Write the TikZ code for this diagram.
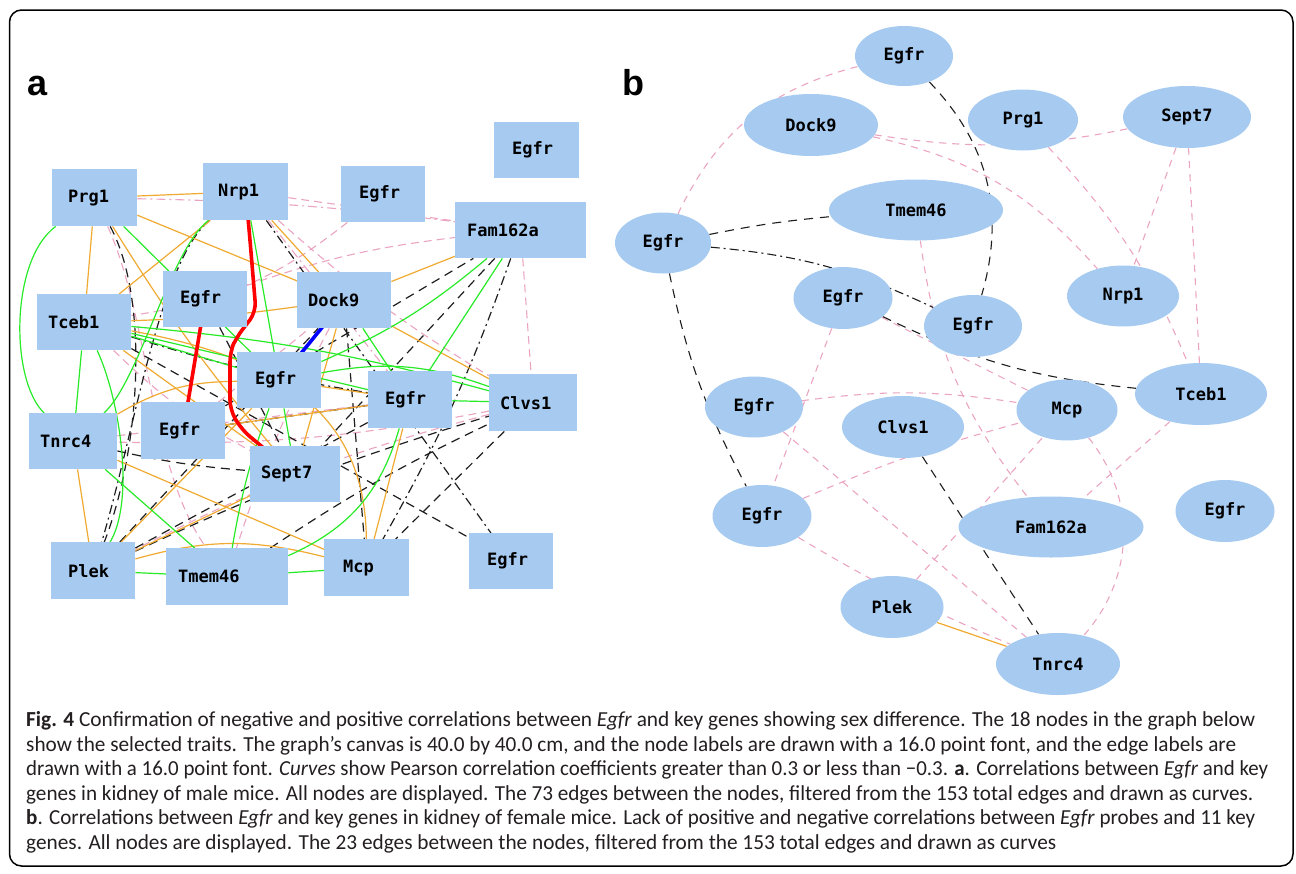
\documentclass[tikz,border=0pt]{standalone}
\usepackage{graphicx}
\usepackage{fontspec}
\setmainfont{Carlito}
\newfontfamily\labfont{DejaVu Sans Mono}
\newfontfamily\panfont{Liberation Sans}
\usetikzlibrary{shapes.geometric}
\pgfdeclarelayer{bglayer}
\pgfdeclarelayer{edgelayer}
\pgfsetlayers{bglayer,edgelayer,main}
\definecolor{boxblue}{RGB}{166,202,240}
\definecolor{lgreen}{RGB}{40,235,40}
\definecolor{lorange}{RGB}{240,170,50}
\definecolor{lpink}{RGB}{235,165,195}
\definecolor{dgray}{RGB}{30,30,30}
\definecolor{captext}{RGB}{35,31,32}
\newcommand\capfit[2]{\resizebox{#1pt}{\height}{#2}}
\begin{document}
\begin{tikzpicture}[x=1pt,y=-1pt,
  abox/.style={fill=boxblue, anchor=north west, align=left, inner ysep=2pt,
    font=\labfont\bfseries\fontsize{17}{17}\selectfont},
  bell/.style={ellipse, fill=boxblue, inner sep=0pt,
    font=\labfont\bfseries\fontsize{17}{17}\selectfont},
  ga/.style={draw=lgreen, line width=1.2pt},
  oa/.style={draw=lorange, line width=1.2pt},
  pa/.style={draw=lpink, line width=1.1pt, dash pattern=on 8pt off 5pt},
  pda/.style={draw=lpink, line width=1.1pt, dash pattern=on 9pt off 4pt on 2pt off 4pt},
  ka/.style={draw=dgray, line width=1.2pt, dash pattern=on 9pt off 6pt},
  kda/.style={draw=dgray, line width=1.2pt, dash pattern=on 9pt off 4pt on 2pt off 4pt},
  ra/.style={draw=red, line width=3.6pt},
  ba/.style={draw=blue, line width=3.6pt},
  pb/.style={draw=lpink, line width=1.1pt, dash pattern=on 7pt off 6pt},
  kb/.style={draw=dgray, line width=1.1pt, dash pattern=on 9pt off 7pt},
  kdb/.style={draw=dgray, line width=1.1pt, dash pattern=on 9pt off 4pt on 2pt off 4pt},
  ob/.style={draw=lorange, line width=1.2pt},
  capline/.style={anchor=base west, inner sep=0pt, text=captext,
    font=\fontsize{21.4}{25}\selectfont},
  panlab/.style={anchor=base west, inner sep=0pt,
    font=\panfont\bfseries\fontsize{36}{36}\selectfont}
]
\useasboundingbox (0,0) rectangle (1296,873);
\begin{pgfonlayer}{bglayer}
\fill[white] (0,0) rectangle (1296,873);
\end{pgfonlayer}
\draw[line width=1.5pt, rounded corners=12pt] (9.5,10) rectangle (1293,866);

% panel labels
\node[panlab] (la) at (27,95) {a};
\node[panlab] (lb) at (622,95) {b};

% ---------------- panel a nodes
\node[abox, minimum height=57pt, text width=53pt, inner xsep=16pt] (aP) at (52,169) {Prg1};
\node[abox, minimum height=57pt, text width=55pt, inner xsep=15pt] (aN) at (203,163) {Nrp1};
\node[abox, minimum height=56pt, text width=48pt, inner xsep=18pt] (aE1) at (341,166) {Egfr};
\node[abox, minimum height=56pt, text width=49pt, inner xsep=18pt] (aE2) at (494,122) {Egfr};
\node[abox, minimum height=56pt, text width=107pt, inner xsep=12pt] (aF) at (455,202) {Fam162a};
\node[abox, minimum height=56pt, text width=72pt, inner xsep=11pt] (aT) at (37,294) {Tceb1};
\node[abox, minimum height=56pt, text width=50pt, inner xsep=17pt] (aE3) at (163,271) {Egfr};
\node[abox, minimum height=56pt, text width=72pt, inner xsep=11pt] (aD) at (297,272) {Dock9};
\node[abox, minimum height=56pt, text width=48pt, inner xsep=18pt] (aE4) at (237,352) {Egfr};
\node[abox, minimum height=57pt, text width=50pt, inner xsep=17pt] (aE5) at (368,371) {Egfr};
\node[abox, minimum height=57pt, text width=66pt, inner xsep=11pt] (aC) at (489,374) {Clvs1};
\node[abox, minimum height=56pt, text width=66pt, inner xsep=11pt] (aTn) at (29,413) {Tnrc4};
\node[abox, minimum height=57pt, text width=48pt, inner xsep=18pt] (aE6) at (141,402) {Egfr};
\node[abox, minimum height=56pt, text width=68pt, inner xsep=11pt] (aS) at (250,446) {Sept7};
\node[abox, minimum height=57pt, text width=50pt, inner xsep=17pt] (aPl) at (51,542) {Plek};
\node[abox, minimum height=57pt, text width=98pt, inner xsep=12pt] (aTm) at (166,548) {Tmem46};
\node[abox, minimum height=57pt, text width=47pt, inner xsep=19pt] (aM) at (324,539) {Mcp};
\node[abox, minimum height=56pt, text width=48pt, inner xsep=18pt] (aE7) at (469,533) {Egfr};

% ---------------- panel b nodes
\node[bell, minimum width=98pt, minimum height=60pt] (bEtop) at (904,56) {Egfr};
\node[bell, minimum width=134pt, minimum height=62pt] (bD) at (811,125) {Dock9};
\node[bell, minimum width=110pt, minimum height=61pt] (bP) at (1023,120) {Prg1};
\node[bell, minimum width=128pt, minimum height=62pt] (bS) at (1187,117) {Sept7};
\node[bell, minimum width=174pt, minimum height=61pt] (bTm) at (916,210) {Tmem46};
\node[bell, minimum width=96pt, minimum height=61pt] (bEL) at (663,243) {Egfr};
\node[bell, minimum width=99pt, minimum height=62pt] (bEM) at (843,298) {Egfr};
\node[bell, minimum width=98pt, minimum height=62pt] (bERM) at (973,326) {Egfr};
\node[bell, minimum width=112pt, minimum height=61pt] (bN) at (1123,296) {Nrp1};
\node[bell, minimum width=132pt, minimum height=62pt] (bT) at (1201,394) {Tceb1};
\node[bell, minimum width=98pt, minimum height=61pt] (bEL1) at (754,407) {Egfr};
\node[bell, minimum width=122pt, minimum height=62pt] (bC) at (903,427) {Clvs1};
\node[bell, minimum width=101pt, minimum height=61pt] (bM) at (1067,410) {Mcp};
\node[bell, minimum width=99pt, minimum height=62pt] (bEL2) at (762,516) {Egfr};
\node[bell, minimum width=185pt, minimum height=61pt] (bF) at (1051,527) {Fam162a};
\node[bell, minimum width=99pt, minimum height=62pt] (bER) at (1225,511) {Egfr};
\node[bell, minimum width=103pt, minimum height=62pt] (bPl) at (892,607) {Plek};
\node[bell, minimum width=124pt, minimum height=62pt] (bTn) at (1058,664) {Tnrc4};

\begin{pgfonlayer}{edgelayer}
% ---------- panel a: pink
\draw[pda] (aP) to[bend left=3] (aF);
\draw[pa] (aN) -- (aF);
\draw[pa] (aP) .. controls (150,320) and (150,470) .. (aTm);
\draw[pa] (aE1) to[bend left=15] (aT);
\draw[pa] (aN) to[bend right=5] (aC);
\draw[pa] (aF) -- (aC);
\draw[pa] (aC) to[bend left=6] (aTn);
\draw[pa] (aC) to[bend right=6] (aPl);
\draw[pa] (aTn) -- (aE5);
\draw[pa] (aE3) to[bend left=6] (aF);
\draw[pa] (aD) to[bend right=5] (aTm);
\draw[pa] (aE6) -- (aD);
\draw[pda] (aN) -- (aE5);
\draw[pa] (aT) to[bend right=8] (aS);
% ---------- panel a: black
\draw[ka] (aP) .. controls (150,300) and (140,450) .. (aPl);
\draw[kda] (aN) .. controls (160,260) and (135,430) .. (aPl);
\draw[kda] (aT) to[bend right=4] (aE5);
\draw[ka] (aTn) to[bend right=4] (aS);
\draw[ka] (aE6) -- (aE5);
\draw[ka] (aPl) -- (aE5);
\draw[ka] (aPl) to[bend left=4] (aC);
\draw[ka] (aPl) -- (aD);
\draw[ka] (aTm) to[bend left=4] (aC);
\draw[kda] (aF) to[bend left=5] (aM);
\draw[ka] (aC) -- (aM);
\draw[ka] (aD) -- (aM);
\draw[ka] (aF) -- (aS);
\draw[kda] (aN) -- (aE7);
\draw[ka] (aT) -- (aE7);
\draw[ka] (aE3) -- (aS);
\draw[ka] (aE6) -- (aF);
% ---------- panel a: orange
\draw[oa] (aP) -- (aN);
\draw[oa] (aP) -- (aD);
\draw[oa] (aP) -- (aT);
\draw[oa] (aP) to[bend right=4] (aS);
\draw[oa] (aN) -- (aT);
\draw[oa] (aN) -- (aD);
\draw[oa] (aT) to[bend right=3] (aD);
\draw[oa] (aD) -- (aF);
\draw[oa] (aD) -- (aC);
\draw[oa] (aD) -- (aS);
\draw[oa] (aTn) to[bend left=15] (aE4);
\draw[oa] (aTn) -- (aPl);
\draw[oa] (aTn) -- (aM);
\draw[oa] (aPl) -- (aE4);
\draw[oa] (aPl) to[bend left=15] (aM);
\draw[oa] (aE5) -- (aM);
\draw[oa] (aT) .. controls (290,360) and (365,420) .. (aM);
\draw[oa] (aT) -- (aS);
\draw[oa] (aE4) -- (aE5);
\draw[oa] (aPl) -- (aS);
\draw[oa] (aE6) -- (aE5);
% ---------- panel a: green
\draw[ga] (aP) .. controls (10,260) and (10,380) .. (aTn);
\draw[ga] (aP) -- (aE4);
\draw[ga] (aN) -- (aE4);
\draw[ga] (aN) .. controls (170,250) and (140,380) .. (aTn);
\draw[ga] (aT) -- (aTn);
\draw[ga] (aT) -- (aE4);
\draw[ga] (aT) -- (aE5);
\draw[ga] (aT) to[bend left=5] (aC);
\draw[ga] (aTn) -- (aTm);
\draw[ga] (aPl) -- (aTm);
\draw[ga] (aTm) -- (aM);
\draw[ga] (aE4) to[bend right=5] (aTm);
\draw[ga] (aE5) to[bend left=25] (aTm);
\draw[ga] (aF) to[bend left=8] (aE4);
\draw[ga] (aF) -- (aE5);
\draw[ga] (aD) -- (aE5);
\draw[ga] (aE4) to[bend left=15] (aC);
\draw[ga] (aE5) -- (aC);
\draw[ga] (aE4) -- (aS);
\draw[ga] (aT) .. controls (120,400) and (135,500) .. (aPl);
% ---------- panel a: highlighted
\draw[ra] (aE3.center) -- (aE6.center);
\draw[ra, rounded corners=10pt] (aN.center) -- (250,240) -- (256,312) -- (236,338) -- (230,352) -- (230,410) -- (242,430) -- (aS.center);
\draw[ba] (aD.center) -- (aE4.center);

% ---------- panel b
\draw[pb] (bEL) to[bend left=25] (bEtop);
\draw[pb] (bD) to[bend right=10] (bS);
\draw[pb] (bD) to[bend left=18] (bN);
\draw[pb] (bP) to[bend left=10] (bT);
\draw[pb] (bS) -- (bN);
\draw[pb] (bS) -- (bT);
\draw[pb] (bTm) to[bend right=15] (bF);
\draw[pb] (bEM) -- (bEL2);
\draw[pb] (bEM) -- (bM);
\draw[pb] (bEL1) to[bend left=8] (bM);
\draw[pb] (bEL1) -- (bTn);
\draw[pb] (bEL2) to[bend left=4] (bM);
\draw[pb] (bEL2) to[bend right=4] (bTn);
\draw[pb] (bPl) -- (bM);
\draw[pb] (bM) to[bend left=40] (bTn);
\draw[pb] (bT) -- (bF);
\draw[kb] (bEtop) to[bend left=30] (bERM);
\draw[kb] (bEL) to[bend left=3] (bTm);
\draw[kdb] (bEL) to[bend left=10] (bERM);
\draw[kb] (bEM) to[bend right=10] (bT);
\draw[kb] (bEL) to[bend right=8] (bEL2);
\draw[kb] (bC) -- (bTn);
\draw[ob] (bPl) -- (bTn);
\end{pgfonlayer}

% ---------------- caption
\node[capline] (c1) at (26,726.5) {\capfit{1229}{\textbf{Fig. 4} Confirmation of negative and positive correlations between \textit{Egfr} and key genes showing sex difference. The 18 nodes in the graph below}};
\node[capline] (c2) at (26,751) {\capfit{1210}{show the selected traits. The graph’s canvas is 40.0 by 40.0 cm, and the node labels are drawn with a 16.0 point font, and the edge labels are}};
\node[capline] (c3) at (26,775.5) {\capfit{1242}{drawn with a 16.0 point font. \textit{Curves} show Pearson correlation coefficients greater than 0.3 or less than −0.3. \textbf{a}. Correlations between \textit{Egfr} and key}};
\node[capline] (c4) at (26,800) {\capfit{1227}{genes in kidney of male mice. All nodes are displayed. The 73 edges between the nodes, filtered from the 153 total edges and drawn as curves.}};
\node[capline] (c5) at (26,824.5) {\capfit{1229}{\textbf{b}. Correlations between \textit{Egfr} and key genes in kidney of female mice. Lack of positive and negative correlations between \textit{Egfr} probes and 11 key}};
\node[capline] (c6) at (26,849) {\capfit{1030}{genes. All nodes are displayed. The 23 edges between the nodes, filtered from the 153 total edges and drawn as curves}};
\end{tikzpicture}
\end{document}
